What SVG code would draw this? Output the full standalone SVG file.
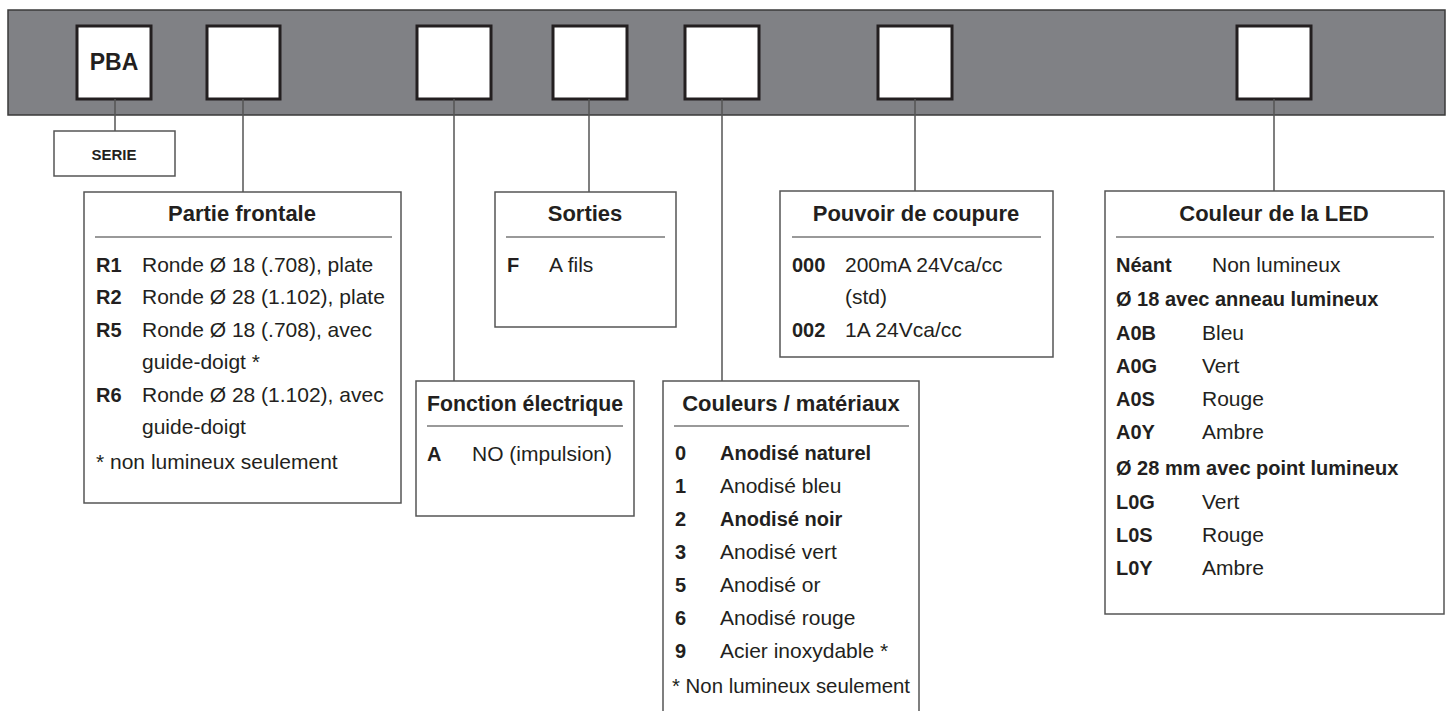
<svg xmlns="http://www.w3.org/2000/svg" width="1452" height="711" viewBox="0 0 1452 711">
<style>
.bar{fill:#808185;stroke:#3a3a3a;stroke-width:1.5}
.slot{fill:#fff;stroke:#231f20;stroke-width:3}
.box{fill:#fff;stroke:#555;stroke-width:1.5}
.sep{stroke:#777;stroke-width:1.3}
.conn line{stroke:#555;stroke-width:1.5}
text{font-family:"Liberation Sans",Arial,sans-serif;fill:#231f20}
.t{font-size:22px;font-weight:bold;text-anchor:middle}
.c{font-size:20px;font-weight:bold}
.v{font-size:21px}
.b{font-weight:bold;font-size:20px}
</style>
<rect width="1452" height="711" fill="#fff"/>
<g id="bar">
<rect class="bar" x="8" y="10" width="1437" height="105"/>
</g>
<g id="slot-pba"><rect class="slot" x="77" y="26" width="74" height="73"/><text x="114" y="70" font-size="23" font-weight="bold" text-anchor="middle">PBA</text></g>
<g id="slot-2"><rect class="slot" x="207" y="26" width="73" height="73"/></g>
<g id="slot-3"><rect class="slot" x="417" y="26" width="74" height="73"/></g>
<g id="slot-4"><rect class="slot" x="553" y="26" width="74" height="73"/></g>
<g id="slot-5"><rect class="slot" x="685" y="26" width="74" height="73"/></g>
<g id="slot-6"><rect class="slot" x="878" y="26" width="74" height="73"/></g>
<g id="slot-7"><rect class="slot" x="1237" y="26" width="74" height="73"/></g>

<g class="conn" id="connectors">
<line x1="115" y1="99" x2="115" y2="131"/>
<line x1="243" y1="99" x2="243" y2="192"/>
<line x1="454" y1="99" x2="454" y2="381"/>
<line x1="589" y1="99" x2="589" y2="192"/>
<line x1="722" y1="99" x2="722" y2="381"/>
<line x1="915" y1="99" x2="915" y2="191"/>
<line x1="1274" y1="99" x2="1274" y2="191"/>
</g>

<g id="serie">
<rect class="box" x="54" y="131" width="121" height="45"/>
<text x="114" y="160" font-size="15" font-weight="bold" text-anchor="middle">SERIE</text>
</g>

<g id="partie-frontale">
<rect class="box" x="84" y="192" width="317" height="311"/>
<text class="t" x="242" y="221">Partie frontale</text>
<line class="sep" x1="95" y1="237" x2="392" y2="237"/>
<text class="c" x="96" y="272">R1</text><text class="v" x="142" y="272">Ronde Ø 18 (.708), plate</text>
<text class="c" x="96" y="304">R2</text><text class="v" x="142" y="304">Ronde Ø 28 (1.102), plate</text>
<text class="c" x="96" y="337">R5</text><text class="v" x="142" y="337">Ronde Ø 18 (.708), avec</text>
<text class="v" x="142" y="369">guide-doigt *</text>
<text class="c" x="96" y="402">R6</text><text class="v" x="142" y="402">Ronde Ø 28 (1.102), avec</text>
<text class="v" x="142" y="434">guide-doigt</text>
<text class="v" x="96" y="469">* non lumineux seulement</text>
</g>

<g id="sorties">
<rect class="box" x="495" y="192" width="181" height="135"/>
<text class="t" x="585" y="221">Sorties</text>
<line class="sep" x1="506" y1="237" x2="665" y2="237"/>
<text class="c" x="507" y="272">F</text><text class="v" x="549" y="272">A fils</text>
</g>

<g id="fonction">
<rect class="box" x="416" y="381" width="218" height="135"/>
<text class="t" x="525" y="411" textLength="196" lengthAdjust="spacingAndGlyphs">Fonction électrique</text>
<line class="sep" x1="427" y1="426" x2="623" y2="426"/>
<text class="c" x="427" y="461">A</text><text class="v" x="472" y="461">NO (impulsion)</text>
</g>

<g id="couleurs">
<path class="box" d="M663,720 V381 H919 V720"/>
<text class="t" x="791" y="411">Couleurs / matériaux</text>
<line class="sep" x1="674" y1="426" x2="909" y2="426"/>
<text class="c" x="675" y="460">0</text><text class="v b" x="720" y="460">Anodisé naturel</text>
<text class="c" x="675" y="493">1</text><text class="v" x="720" y="493">Anodisé bleu</text>
<text class="c" x="675" y="526">2</text><text class="v b" x="720" y="526">Anodisé noir</text>
<text class="c" x="675" y="559">3</text><text class="v" x="720" y="559">Anodisé vert</text>
<text class="c" x="675" y="592">5</text><text class="v" x="720" y="592">Anodisé or</text>
<text class="c" x="675" y="625">6</text><text class="v" x="720" y="625">Anodisé rouge</text>
<text class="c" x="675" y="658">9</text><text class="v" x="720" y="658">Acier inoxydable *</text>
<text class="v" x="672" y="693" textLength="238" lengthAdjust="spacingAndGlyphs">* Non lumineux seulement</text>
</g>

<g id="pouvoir">
<rect class="box" x="780" y="191" width="273" height="166"/>
<text class="t" x="916" y="221">Pouvoir de coupure</text>
<line class="sep" x1="792" y1="237" x2="1041" y2="237"/>
<text class="c" x="792" y="272">000</text><text class="v" x="845" y="272">200mA 24Vca/cc</text>
<text class="v" x="845" y="304">(std)</text>
<text class="c" x="792" y="337">002</text><text class="v" x="845" y="337">1A 24Vca/cc</text>
</g>

<g id="led">
<rect class="box" x="1105" y="191" width="339" height="423"/>
<text class="t" x="1274" y="221">Couleur de la LED</text>
<line class="sep" x1="1116" y1="237" x2="1434" y2="237"/>
<text class="c" x="1116" y="272">Néant</text><text class="v" x="1212" y="272">Non lumineux</text>
<text class="c" x="1116" y="306">Ø 18 avec anneau lumineux</text>
<text class="c" x="1116" y="340">A0B</text><text class="v" x="1202" y="340">Bleu</text>
<text class="c" x="1116" y="373">A0G</text><text class="v" x="1202" y="373">Vert</text>
<text class="c" x="1116" y="406">A0S</text><text class="v" x="1202" y="406">Rouge</text>
<text class="c" x="1116" y="439">A0Y</text><text class="v" x="1202" y="439">Ambre</text>
<text class="c" x="1116" y="475">Ø 28 mm avec point lumineux</text>
<text class="c" x="1116" y="509">L0G</text><text class="v" x="1202" y="509">Vert</text>
<text class="c" x="1116" y="542">L0S</text><text class="v" x="1202" y="542">Rouge</text>
<text class="c" x="1116" y="575">L0Y</text><text class="v" x="1202" y="575">Ambre</text>
</g>
</svg>
